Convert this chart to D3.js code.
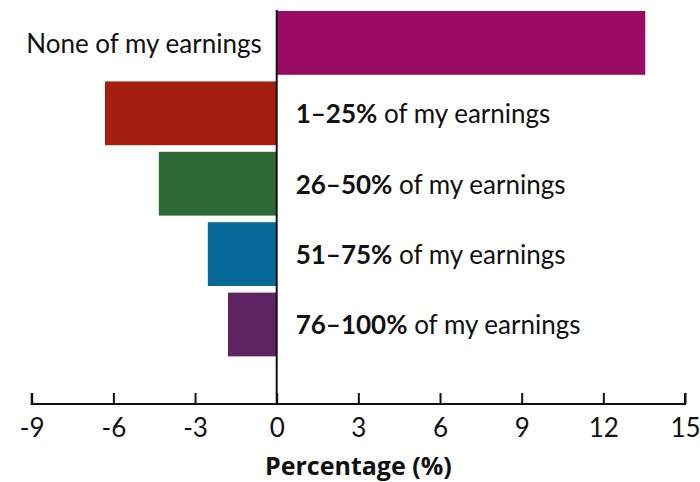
<!DOCTYPE html>
<html><head><meta charset="utf-8">
<script src="https://cdn.jsdelivr.net/npm/d3@7"></script>
<style>
html,body{margin:0;padding:0;background:#fff;}
text{font-family:Lato,"Open Sans",sans-serif;fill:#111;}
</style></head>
<body>
<svg id="chart" width="700" height="482"></svg>
<script>
const categories = ["None of my earnings","1–25%","26–50%","51–75%","76–100%"];
const values = [13.54, -6.31, -4.33, -2.53, -1.79];
const colors = ["#990A63","#A51F11","#2E6836","#07699A","#5E2361"];
const tickValues = [-9,-6,-3,0,3,6,9,12,15];
const axisTitle = "Percentage (%)";
const suffix = " of my earnings";

const svg = d3.select("#chart");
const x = d3.scaleLinear().domain([-9,15]).range([31.7,685]);
const y = d3.scaleBand().domain(categories).range([7.7,359.7]).paddingInner(0.094).paddingOuter(0.047);
const axisY = 404;
const fs = 26;

svg.selectAll("rect.bar").data(categories).join("rect")
  .attr("class","bar")
  .attr("x",(d,i)=>x(Math.min(0,values[i])))
  .attr("width",(d,i)=>Math.abs(x(values[i])-x(0)))
  .attr("y",d=>y(d))
  .attr("height",y.bandwidth())
  .attr("fill",(d,i)=>colors[i]);

// zero line
svg.append("line").attr("x1",x(0)).attr("x2",x(0)).attr("y1",10).attr("y2",axisY)
  .attr("stroke","#111").attr("stroke-width",2);

// axis
const ax = svg.append("g").attr("transform",`translate(0,${axisY})`)
  .call(d3.axisBottom(x).tickValues(tickValues).tickSize(-11).tickPadding(14).tickFormat(d=>d<0?"-"+Math.abs(d):d));
ax.select(".domain").attr("stroke","#111").attr("stroke-width",2).attr("d",`M${x(-9)},-11V0H${x(15)}V-11`);
ax.selectAll(".tick line").attr("stroke","#111").attr("stroke-width",2);
ax.selectAll(".tick text").style("font-size",fs+"px").style("font-family","Lato").style("fill","#111").attr("dy","0.72em");

svg.append("text").attr("x",(x(-9)+x(15))/2).attr("y",475).attr("text-anchor","middle")
  .style("font-family","'Open Sans',Lato,sans-serif")
  .style("font-size","25px").style("font-weight","bold").text(axisTitle);

// labels
categories.forEach((c,i)=>{
  const cy = y(c)+y.bandwidth()/2;
  if(values[i]>0){
    svg.append("text").attr("x",x(0)-15).attr("y",cy).attr("dy","0.38em").attr("text-anchor","end")
      .style("font-size",fs+"px").text(c);
  } else {
    const t = svg.append("text").attr("x",x(0)+19).attr("y",cy).attr("dy","0.38em").style("font-size",fs+"px");
    t.append("tspan").style("font-weight","bold").text(c);
    t.append("tspan").text(suffix);
  }
});
</script>
</body></html>
